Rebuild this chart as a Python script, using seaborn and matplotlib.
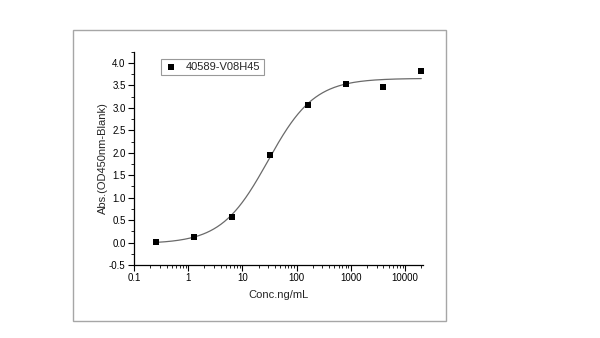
import numpy as np
import pandas as pd
import matplotlib
matplotlib.use("Agg")
import matplotlib.pyplot as plt
from matplotlib.patches import Rectangle
from matplotlib.ticker import FixedLocator, MultipleLocator, LogLocator, NullFormatter
import seaborn as sns

# Dilution series (ng/mL) and blank-corrected OD450 readings
conc = [0.256, 1.28, 6.4, 32, 160, 800, 4000, 20000]
absorbance = [0.02, 0.13, 0.57, 1.94, 3.06, 3.52, 3.47, 3.83]
sample_name = "40589-V08H45"
x_ticks = [0.1, 1, 10, 100, 1000, 10000]
x_tick_labels = ["0.1", "1", "10", "100", "1000", "10000"]
y_ticks = [-0.5, 0.0, 0.5, 1.0, 1.5, 2.0, 2.5, 3.0, 3.5, 4.0]

df = pd.DataFrame({"conc": conc, "abs": absorbance})

# Four-parameter logistic fit: grid over EC50 and Hill slope,
# bottom/top solved by linear least squares at each grid point.
lx = np.log10(df["conc"].to_numpy())
yv = df["abs"].to_numpy()
best = None
for log_ec50 in np.linspace(0.5, 2.5, 201):
    for hill in np.linspace(0.5, 2.0, 151):
        s = 1.0 / (1.0 + 10 ** (hill * (log_ec50 - lx)))
        A = np.column_stack([1 - s, s])
        coef, *_ = np.linalg.lstsq(A, yv, rcond=None)
        err = np.sum((A @ coef - yv) ** 2)
        if best is None or err < best[0]:
            best = (err, log_ec50, hill, coef)
_, log_ec50, hill, (bottom, top) = best

fit_x = np.logspace(np.log10(conc[0]), np.log10(conc[-1]), 300)
fit_s = 1.0 / (1.0 + 10 ** (hill * (log_ec50 - np.log10(fit_x))))
fit = pd.DataFrame({"conc": fit_x, "abs": bottom + (top - bottom) * fit_s})

sns.set_style("ticks")
plt.rcParams["font.family"] = ["Liberation Sans", "DejaVu Sans"]

fig = plt.figure(figsize=(6.0, 3.38), dpi=100)
ax = fig.add_axes([0.2233, 0.216, 0.4817, 0.631])

# Outer page frame
fig.patches.append(Rectangle((72.5 / 600, 1 - 320.5 / 338), (445.5 - 72.5) / 600,
                             (320.5 - 29.5) / 338, transform=fig.transFigure,
                             fill=False, edgecolor="#a6a6a6", linewidth=1.0, zorder=0))

sns.lineplot(data=fit, x="conc", y="abs", ax=ax, color="#6a6a6a", linewidth=0.9,
             legend=False)
sns.scatterplot(data=df, x="conc", y="abs", ax=ax, marker="s", color="black",
                s=20, edgecolor="black", linewidth=0, label=sample_name, zorder=3)

ax.set_xscale("log")
ax.set_xlim(0.1, 21500)
ax.set_ylim(-0.5, 4.25)
ax.xaxis.set_major_locator(FixedLocator(x_ticks))
ax.set_xticklabels(x_tick_labels)
ax.xaxis.set_minor_locator(LogLocator(base=10, subs=np.arange(2, 10), numticks=20))
ax.xaxis.set_minor_formatter(NullFormatter())
ax.yaxis.set_major_locator(FixedLocator(y_ticks))
ax.set_yticklabels([f"{v:.1f}" for v in y_ticks])
ax.yaxis.set_minor_locator(MultipleLocator(0.25))

for side in ("top", "right"):
    ax.spines[side].set_visible(False)
for side in ("left", "bottom"):
    ax.spines[side].set_linewidth(0.9)
    ax.spines[side].set_color("black")

ax.tick_params(axis="both", which="major", direction="out", length=4, width=0.8,
               labelsize=7, pad=2, colors="black")
ax.tick_params(axis="both", which="minor", direction="out", length=2.2, width=0.6,
               colors="black")

ax.set_xlabel("Conc.ng/mL", fontsize=8, labelpad=5)
ax.set_ylabel("Abs.(OD450nm-Blank)", fontsize=8, labelpad=1)

leg = ax.legend(loc="upper left", bbox_to_anchor=(0.092, 0.968), borderaxespad=0,
                frameon=True, fancybox=False, fontsize=8, handletextpad=0.8,
                borderpad=0.3, markerscale=1.0, handlelength=1.2)
leg.get_frame().set_edgecolor("#808080")
leg.get_frame().set_linewidth(0.8)

fig.savefig("out.png", dpi=100, facecolor="white")
